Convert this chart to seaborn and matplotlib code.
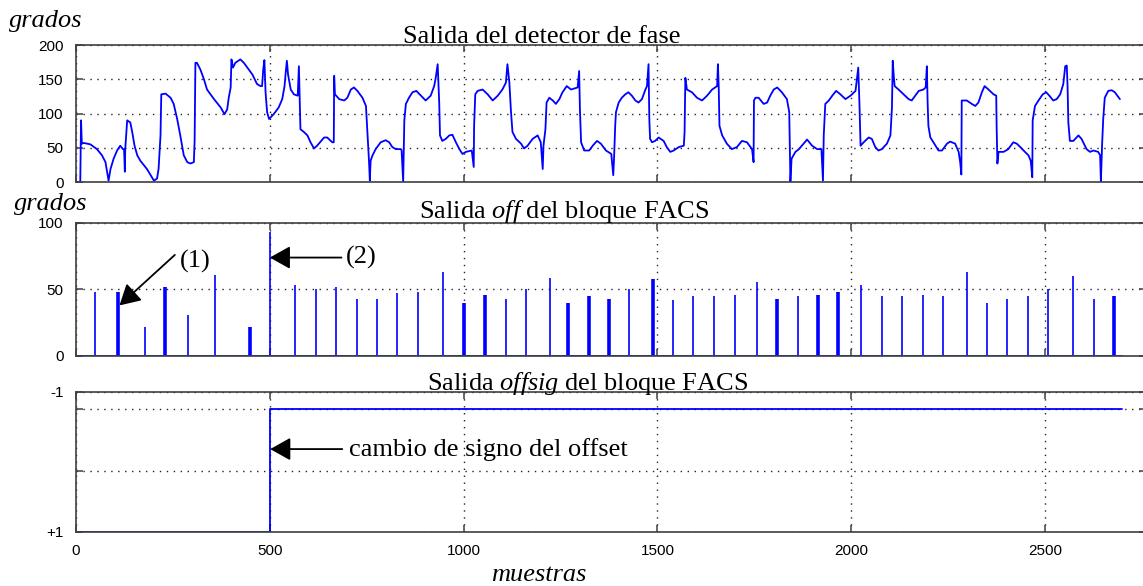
import matplotlib
matplotlib.use("Agg")
import matplotlib.pyplot as plt
import seaborn as sns
import pandas as pd

# ---- datos ----
# Salida del detector de fase (grados)
fase_x = [0, 11, 13, 15, 20, 37, 54, 67, 76, 84, 89, 97, 106, 114, 121, 124, 126, 127, 132, 140,
          145, 151, 158, 166, 183, 201, 209, 213, 218, 220, 231, 244, 252, 261, 269, 278, 287, 295, 304, 306,
          308, 312, 321, 330, 338, 356, 373, 383, 390, 394, 399, 401, 405, 411, 424, 433, 442, 455, 467, 476,
          480, 483, 486, 489, 493, 498, 510, 523, 532, 538, 541, 544, 547, 554, 562, 572, 575, 577, 579, 588,
          597, 605, 614, 622, 640, 648, 661, 665, 666, 668, 679, 692, 700, 709, 717, 726, 739, 748, 752, 756,
          758, 760, 765, 773, 786, 799, 808, 816, 825, 838, 840, 844, 847, 851, 859, 868, 878, 890, 902, 915,
          924, 928, 933, 937, 939, 945, 954, 963, 971, 980, 989, 997, 1006, 1021, 1026, 1027, 1030, 1036, 1049, 1062,
          1075, 1088, 1100, 1109, 1113, 1118, 1122, 1126, 1135, 1148, 1156, 1165, 1178, 1191, 1199, 1204, 1206, 1211, 1214, 1221,
          1230, 1238, 1247, 1255, 1266, 1277, 1294, 1298, 1300, 1303, 1311, 1324, 1333, 1344, 1354, 1367, 1381, 1382, 1386, 1388,
          1391, 1393, 1400, 1408, 1417, 1425, 1434, 1443, 1451, 1460, 1469, 1473, 1477, 1479, 1481, 1486, 1494, 1503, 1516, 1524,
          1533, 1542, 1555, 1568, 1570, 1572, 1576, 1589, 1602, 1615, 1628, 1641, 1654, 1656, 1658, 1660, 1667, 1679, 1692, 1705,
          1718, 1731, 1744, 1748, 1749, 1753, 1761, 1774, 1783, 1791, 1800, 1809, 1821, 1834, 1840, 1843, 1846, 1856, 1865, 1877,
          1886, 1899, 1912, 1923, 1927, 1929, 1933, 1942, 1951, 1961, 1972, 1985, 1998, 2011, 2018, 2021, 2024, 2032, 2045, 2053,
          2062, 2070, 2079, 2092, 2101, 2105, 2107, 2110, 2112, 2122, 2135, 2148, 2156, 2165, 2174, 2186, 2192, 2195, 2197, 2199,
          2204, 2212, 2225, 2234, 2247, 2255, 2268, 2277, 2281, 2284, 2285, 2298, 2311, 2320, 2328, 2337, 2344, 2354, 2367, 2374,
          2375, 2377, 2380, 2393, 2405, 2418, 2427, 2436, 2448, 2457, 2463, 2467, 2468, 2474, 2483, 2494, 2503, 2511, 2521, 2530,
          2539, 2547, 2552, 2556, 2558, 2560, 2564, 2573, 2586, 2594, 2607, 2616, 2625, 2637, 2642, 2644, 2647, 2650, 2654, 2663,
          2672, 2680, 2693]
fase_y = [0, 0, 90, 56, 57, 55, 48, 39, 29, 2, 19, 34, 46, 53, 48, 48, 15, 48, 90, 87,
          73, 53, 39, 31, 19, 2, 5, 19, 68, 128, 129, 123, 114, 92, 68, 39, 29, 27, 29, 60,
          174, 174, 164, 150, 135, 121, 109, 99, 106, 123, 138, 179, 167, 174, 179, 174, 167, 157, 143, 140,
          140, 164, 178, 131, 102, 92, 99, 109, 121, 140, 160, 177, 157, 135, 128, 126, 169, 126, 77, 73,
          68, 58, 49, 53, 65, 65, 58, 58, 155, 128, 121, 119, 123, 135, 138, 133, 123, 111, 70, 29,
          2, 31, 39, 48, 58, 61, 58, 51, 48, 48, 46, 0, 90, 114, 123, 131, 133, 126, 119, 126,
          140, 152, 172, 116, 68, 60, 63, 68, 69, 58, 48, 41, 44, 46, 22, 82, 128, 133, 135, 128,
          119, 126, 135, 145, 172, 145, 104, 73, 63, 56, 49, 53, 63, 68, 58, 19, 53, 77, 116, 123,
          119, 114, 121, 131, 140, 135, 138, 162, 106, 58, 46, 46, 53, 60, 56, 46, 41, 34, 10, 34,
          82, 102, 116, 123, 128, 131, 126, 119, 116, 121, 135, 140, 172, 92, 63, 58, 60, 65, 60, 51,
          44, 46, 51, 53, 73, 152, 135, 131, 123, 119, 126, 135, 140, 172, 140, 82, 68, 56, 48, 51,
          60, 58, 48, 29, 119, 123, 123, 114, 116, 126, 135, 138, 131, 121, 102, 0, 34, 44, 48, 56,
          62, 53, 48, 48, 2, 68, 114, 119, 126, 133, 128, 121, 126, 133, 167, 116, 53, 58, 65, 63,
          51, 46, 48, 56, 68, 109, 177, 152, 140, 135, 128, 121, 119, 126, 133, 135, 138, 169, 116, 82,
          65, 58, 46, 46, 56, 59, 56, 44, 29, 11, 119, 119, 114, 111, 116, 131, 140, 135, 128, 126,
          82, 27, 44, 44, 48, 58, 56, 51, 44, 39, 31, 7, 90, 111, 119, 128, 131, 126, 119, 121,
          128, 143, 169, 170, 140, 87, 60, 60, 68, 63, 48, 44, 46, 44, 39, 0, 53, 92, 123, 133,
          134, 131, 121]

# Salida off del bloque FACS (grados); doble = impulso de dos muestras
off_x = [50, 109, 179, 230, 289, 359, 450, 500, 566, 618, 671, 724, 777, 829, 882, 947,
         1001, 1055, 1110, 1162, 1224, 1270, 1323, 1374, 1426, 1488, 1540, 1592, 1645, 1699, 1758, 1809,
         1863, 1915, 1967, 2025, 2079, 2132, 2184, 2237, 2298, 2350, 2403, 2456, 2508, 2573, 2627, 2677]
off_val = [48, 48, 22, 52, 31, 61, 22, 93, 53, 50, 52, 43, 43, 47, 48, 63,
           40, 46, 43, 50, 59, 40, 45, 43, 50, 58, 42, 45, 45, 46, 56, 43,
           45, 46, 48, 53, 45, 45, 46, 45, 63, 40, 43, 45, 50, 60, 43, 45]
off_doble = [0, 1, 0, 1, 0, 0, 1, 0, 0, 0, 0, 0, 0, 0, 0, 0,
             1, 1, 0, 0, 0, 1, 1, 1, 0, 1, 0, 0, 0, 0, 0, 1,
             0, 1, 1, 0, 0, 0, 0, 0, 0, 0, 0, 0, 0, 0, 0, 1]
fin_muestras = 2699

# Salida offsig del bloque FACS
offsig_x = [0, 500, 2698]
offsig_y = [1, -1, -1]

x_ticks = [0, 500, 1000, 1500, 2000, 2500]

sns.set_theme(style="white")
plt.rcParams['font.family'] = ['Liberation Serif', 'DejaVu Serif']
plt.rcParams['mathtext.fontset'] = 'custom'
plt.rcParams['mathtext.rm'] = 'Liberation Serif'
plt.rcParams['mathtext.it'] = 'Liberation Serif:italic'
plt.rcParams['text.color'] = 'black'

AZUL = '#0000ff'
GRIS = '#404040'
TICKFONT = ['Liberation Sans Narrow', 'Liberation Sans', 'DejaVu Sans']
TAM = 19

fig = plt.figure(figsize=(11.43, 5.86), dpi=100)
ax1 = fig.add_axes([0.0665, 0.6894, 0.936, 0.2338])
ax2 = fig.add_axes([0.0665, 0.3925, 0.936, 0.2270])
ax3 = fig.add_axes([0.0665, 0.0922, 0.936, 0.2389])


def estilo(ax):
    ax.set_xlim(0, 2760)
    ax.set_xticks(x_ticks)
    ax.grid(True, color='#222222', linestyle=(0, (1, 4)), linewidth=1.0)
    ax.tick_params(direction='in', length=5, width=1.1, color=GRIS, labelcolor='black',
                   top=True, right=True, bottom=True, left=True, labelsize=11, pad=9)
    for s in ax.spines.values():
        s.set_color(GRIS)
        s.set_linewidth(1.2)
    for lab in ax.get_xticklabels() + ax.get_yticklabels():
        lab.set_family(TICKFONT)
    ax.set_xlabel('')
    ax.set_ylabel('')


# panel 1
df_fase = pd.DataFrame({'muestras': fase_x, 'grados': fase_y})
sns.lineplot(data=df_fase, x='muestras', y='grados', ax=ax1, color=AZUL,
             linewidth=1.3, estimator=None, sort=False)
ax1.set_ylim(0, 200)
ax1.set_yticks([0, 50, 100, 150, 200])
estilo(ax1)
ax1.set_xticklabels([])

# panel 2
ax2.plot([0, fin_muestras], [0, 0], color=AZUL, linewidth=1.3)
for x, v, d in zip(off_x, off_val, off_doble):
    ax2.vlines(x, 0, v, color=AZUL, linewidth=2.6 if d else 1.2)
ax2.set_ylim(0, 100)
ax2.set_yticks([0, 50, 100])
estilo(ax2)
ax2.set_xticklabels([])

flecha = dict(arrowstyle='-|>,head_length=0.5,head_width=0.28', color='black',
              lw=1.3, mutation_scale=25, shrinkA=0, shrinkB=0)
ax2.annotate('', xy=(112, 38), xytext=(255, 76), arrowprops=flecha)
ax2.text(308, 71, '(1)', fontsize=TAM, ha='center', va='center')
ax2.annotate('', xy=(500, 74), xytext=(685, 74), arrowprops=flecha)
ax2.text(736, 74, '(2)', fontsize=TAM, ha='center', va='center')

# panel 3
df_sig = pd.DataFrame({'muestras': offsig_x, 'offsig': offsig_y})
sns.lineplot(data=df_sig, x='muestras', y='offsig', ax=ax3, color=AZUL,
             linewidth=1.3, estimator=None, sort=False, drawstyle='steps-post')
ax3.set_ylim(1, -1.28)
ax3.set_yticks([1, 0, -1, -1.28])
ax3.set_yticklabels(['+1', '', '', '-1'])
estilo(ax3)
ax3.annotate('', xy=(501, -0.35), xytext=(687, -0.35), arrowprops=flecha)
ax3.text(705, -0.35, 'cambio de signo del offset', fontsize=TAM, ha='left', va='center')

# textos
fig.text(0.008, 0.9539, 'grados', fontsize=TAM, style='italic', ha='left', va='baseline')
fig.text(0.0125, 0.6416, 'grados', fontsize=TAM, style='italic', ha='left', va='baseline')
fig.text(0.474, 0.9266, 'Salida del detector de fase', fontsize=TAM, ha='center', va='baseline')
fig.text(0.4933, 0.628, r'Salida $\mathit{off}$ del bloque FACS', fontsize=TAM, ha='center', va='baseline')
fig.text(0.514, 0.3345, r'Salida $\mathit{offsig}$ del bloque FACS', fontsize=TAM, ha='center', va='baseline')
fig.text(0.4716, 0.0085, 'muestras', fontsize=TAM, style='italic', ha='center', va='baseline')

fig.savefig('out.png', dpi=100)
